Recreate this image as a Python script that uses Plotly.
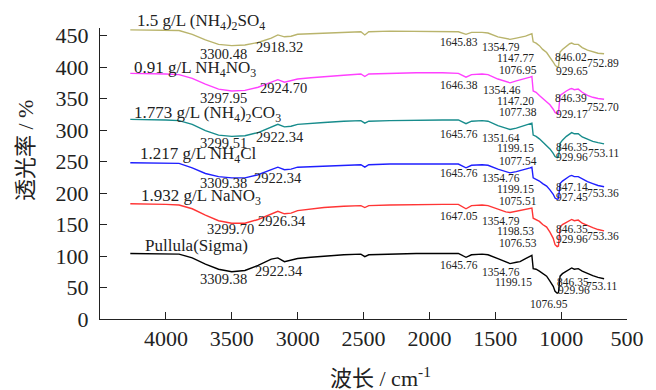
import plotly.graph_objects as go

# ---- data ----
wavenumber = [4270, 4150, 4000, 3900, 3800, 3700, 3600, 3500, 3400, 3300, 3200, 3150, 3100, 3050,
              3000, 2900, 2800, 2650, 2520, 2490, 2460, 2300, 2100, 1900, 1780, 1722, 1680, 1600,
              1555, 1480, 1420, 1388, 1340, 1312, 1270, 1236, 1222, 1212, 1190, 1165, 1140, 1110,
              1085, 1060, 1046, 1030, 1020, 1008, 990, 960, 935, 920, 900, 870, 840, 800, 760, 720, 674]

pullula = [104, 104, 104, 103, 97, 87, 79, 75, 77, 85, 95, 97, 91, 93,
           96, 98, 100, 102, 103, 99, 102, 103, 104, 104, 104, 98, 102, 103,
           102, 96, 90, 88, 90, 91, 96, 100, 101, 80, 79, 76, 72, 68,
           60, 52, 44, 41, 42, 68, 72, 76, 80, 81, 79, 80, 76, 72, 69, 66, 64]

nano3 = [183, 183, 182, 181, 175, 165, 156, 152, 152, 158, 167, 171, 167, 168,
         172, 175, 177, 179, 180, 177, 180, 181, 182, 182, 182, 175, 180, 181,
         180, 174, 170, 169, 171, 172, 174, 175, 176, 160, 158, 155, 150, 146,
         138, 128, 118, 115, 116, 146, 150, 154, 157, 158, 156, 157, 152, 148, 145, 142, 140]

nh4cl = [248, 248, 248, 247, 240, 231, 226, 224, 224, 229, 237, 241, 237, 238,
         241, 242, 243, 244, 245, 241, 245, 246, 246, 246, 246, 240, 244, 245,
         244, 238, 234, 232, 234, 236, 238, 240, 241, 224, 222, 219, 215, 211,
         205, 198, 192, 190, 191, 215, 219, 224, 227, 228, 226, 226, 222, 218, 215, 212, 210]

nh42co3 = [317, 317, 316, 315, 309, 299, 292, 290, 291, 296, 305, 309, 305, 306,
           309, 311, 312, 314, 315, 311, 314, 315, 316, 316, 316, 310, 314, 315,
           314, 307, 303, 301, 303, 305, 307, 310, 311, 292, 290, 286, 281, 276,
           270, 263, 258, 256, 257, 279, 284, 290, 294, 296, 294, 294, 289, 285, 282, 280, 278]

nh4no3 = [390, 390, 389, 388, 382, 373, 365, 362, 363, 368, 376, 380, 376, 378,
          381, 383, 385, 387, 389, 385, 389, 390, 391, 391, 390, 384, 388, 389,
          388, 381, 377, 375, 378, 380, 382, 384, 385, 362, 360, 355, 350, 345,
          340, 333, 328, 326, 327, 355, 358, 362, 365, 366, 364, 365, 360, 355, 352, 350, 349]

nh42so4 = [459, 459, 459, 458, 452, 443, 436, 434, 435, 439, 446, 451, 448, 449,
           452, 453, 454, 455, 456, 451, 456, 457, 457, 457, 456, 452, 455, 455,
           454, 448, 445, 444, 446, 447, 449, 452, 453, 440, 438, 434, 428, 423,
           416, 408, 403, 400, 401, 424, 428, 433, 437, 438, 436, 436, 431, 427, 424, 422, 421]

series_values = [nh42so4, nh4no3, nh42co3, nh4cl, nano3, pullula]
series_names = ["1.5 g/L (NH<sub>4</sub>)<sub>2</sub>SO<sub>4</sub>",
                "0.91 g/L NH<sub>4</sub>NO<sub>3</sub>",
                "1.773 g/L (NH<sub>4</sub>)<sub>2</sub>CO<sub>3</sub>",
                "1.217 g/L NH<sub>4</sub>Cl",
                "1.932 g/L NaNO<sub>3</sub>",
                "Pullula(Sigma)"]
colors = ["#b9b46c", "#ff40ff", "#178c8c", "#1f1fff", "#ff3535", "#000000"]

# peak labels per series
peak_texts = [
    ["3300.48", "2918.32", "1645.83", "1354.79", "1147.77", "1076.95", "846.02", "929.65", "752.89"],
    ["3297.95", "2924.70", "1646.38", "1354.46", "1147.20", "1077.38", "846.39", "929.17", "752.70"],
    ["3299.51", "2922.34", "1645.76", "1351.64", "1199.15", "1077.54", "846.35", "929.96", "753.11"],
    ["3309.38", "2922.34", "1645.76", "1354.76", "1199.15", "1075.51", "847.14", "927.45", "753.36"],
    ["3299.70", "2926.34", "1647.05", "1354.79", "1198.53", "1076.53", "846.35", "929.96", "753.36"],
    ["3309.38", "2922.34", "1645.76", "1354.76", "1199.15", "846.35", "929.96", "753.11", "1076.95"],
]
# label placement (x in cm-1, y in %)
peak_pos = [
    [(3566, 420.6), (3141, 432.1), (1775, 439.1), (1456, 431.2), (1350, 413.7), (1327, 395.2), (925, 416.3), (917, 394.0), (682, 405.8)],
    [(3566, 350.3), (3111, 366.1), (1775, 371.4), (1449, 363.4), (1350, 346.4), (1327, 328.0), (925, 350.3), (917, 325.3), (682, 336.9)],
    [(3566, 279.8), (3134, 288.4), (1775, 293.6), (1456, 286.8), (1350, 270.9), (1327, 251.2), (917, 273.4), (917, 257.6), (682, 263.9)],
    [(3559, 216.3), (3149, 223.3), (1775, 231.2), (1456, 223.3), (1350, 206.3), (1327, 187.7), (917, 209.0), (917, 193.1), (682, 199.5)],
    [(3513, 142.4), (3119, 156.0), (1775, 163.5), (1456, 156.0), (1350, 140.1), (1327, 120.1), (917, 142.4), (917, 126.5), (682, 131.7)],
    [(3559, 63.0), (3141, 76.7), (1775, 85.7), (1456, 75.1), (1358, 59.2), (910, 59.2), (902, 46.0), (690, 52.4), (1092, 23.8)],
]
name_pos = [(4234, 471), (4257, 397), (4257, 325), (4212, 260), (4204, 194), (4174, 117)]

x_ticks = [4000, 3500, 3000, 2500, 2000, 1500, 1000, 500]
y_ticks = [0, 50, 100, 150, 200, 250, 300, 350, 400, 450]

X_RANGE = [4500, 500]
Y_RANGE = [0, 462]

SERIF = "Liberation Serif, Times New Roman, serif"
CJK = "Liberation Serif, Noto Sans CJK SC, serif"

ML, MR, MT, MB = 100, 29, 28, 71
W, H = 656, 390
pw, ph = W - ML - MR, H - MT - MB


def to_paper(x, y):
    return ((X_RANGE[0] - x) / (X_RANGE[0] - X_RANGE[1]),
            (y - Y_RANGE[0]) / (Y_RANGE[1] - Y_RANGE[0]))


fig = go.Figure()
for vals, col in zip(series_values, colors):
    fig.add_trace(go.Scatter(x=wavenumber, y=vals, mode="lines",
                             line=dict(color=col, width=1.4), showlegend=False,
                             hoverinfo="skip"))

annotations = []
for name, (nx, ny) in zip(series_names, name_pos):
    xp, yp = to_paper(nx, ny)
    annotations.append(dict(x=xp, y=yp, xref="paper", yref="paper", text=name, showarrow=False,
                            xanchor="left", yanchor="middle",
                            font=dict(family=SERIF, size=17, color="#222")))
for texts, poss in zip(peak_texts, peak_pos):
    for t, (px, py) in zip(texts, poss):
        size = 14.5 if px > 2500 else 11.5
        xp, yp = to_paper(px, py)
        annotations.append(dict(x=xp, y=yp, xref="paper", yref="paper", text=t, showarrow=False,
                                xanchor="center", yanchor="middle",
                                font=dict(family=SERIF, size=size, color="#222")))

# axis titles placed by pixel position
annotations.append(dict(x=(25 - ML) / pw, y=(H - MB - 151) / ph, xref="paper", yref="paper",
                        text="透光率 / %", showarrow=False, textangle=-90,
                        xanchor="center", yanchor="middle",
                        font=dict(family=CJK, size=22, color="#222")))
annotations.append(dict(x=(380 - ML) / pw, y=(H - MB - 377) / ph, xref="paper", yref="paper",
                        text="波长 / cm<sup>-1</sup>", showarrow=False,
                        xanchor="center", yanchor="middle",
                        font=dict(family=CJK, size=22, color="#222")))

fig.update_layout(
    width=W, height=H,
    margin=dict(l=ML, r=MR, t=MT, b=MB),
    paper_bgcolor="white", plot_bgcolor="white",
    annotations=annotations,
    xaxis=dict(range=X_RANGE, tickvals=x_ticks, ticks="inside", ticklen=7,
               tickcolor="#222", showline=True, linecolor="#222", linewidth=1,
               showgrid=False, zeroline=False, ticklabelstandoff=0,
               tickfont=dict(family=SERIF, size=22, color="#222")),
    yaxis=dict(range=Y_RANGE, tickvals=y_ticks, ticks="inside", ticklen=7,
               tickcolor="#222", showline=True, linecolor="#222", linewidth=1,
               showgrid=False, zeroline=False, ticklabelstandoff=6,
               tickfont=dict(family=SERIF, size=22, color="#222")),
)

fig.write_html("out.html")
